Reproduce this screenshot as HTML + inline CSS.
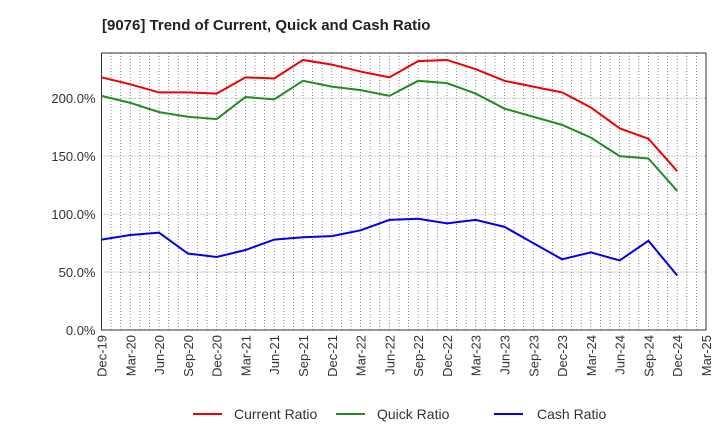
<!DOCTYPE html>
<html><head><meta charset="utf-8"><style>
body{margin:0;background:#fff;font-family:"Liberation Sans",sans-serif;}
</style></head><body>
<svg width="720" height="440" xmlns="http://www.w3.org/2000/svg">
<text x="102" y="30" font-size="15" font-weight="bold" fill="#222">[9076]  Trend of Current, Quick and Cash Ratio</text>
<g id="grid"></g>
<g id="axes"></g>
<g id="series"></g>
<g id="legend" font-size="14" fill="#333">
<line x1="193" y1="414" x2="222" y2="414" stroke="#e00" stroke-width="2"/>
<text x="234" y="419">Current Ratio</text>
<line x1="336" y1="414" x2="365" y2="414" stroke="#228B22" stroke-width="2"/>
<text x="377" y="419">Quick Ratio</text>
<line x1="494" y1="414" x2="523" y2="414" stroke="#00e" stroke-width="2"/>
<text x="537" y="419">Cash Ratio</text>
</g>
</svg>
<script>
const categories=["Dec-19","Mar-20","Jun-20","Sep-20","Dec-20","Mar-21","Jun-21","Sep-21","Dec-21","Mar-22","Jun-22","Sep-22","Dec-22","Mar-23","Jun-23","Sep-23","Dec-23","Mar-24","Jun-24","Sep-24","Dec-24","Mar-25"];
const currentRatio=[218,212,205,205,204,218,217,233,229,223,218,232,233,225,215,210,205,192,174,165,137];
const quickRatio=[202,196,188,184,182,201,199,215,210,207,202,215,213,204,191,184,177,166,150,148,120];
const cashRatio=[78,82,84,66,63,69,78,80,81,86,95,96,92,95,89,75,61,67,60,77,47];
const yTicks=[0,50,100,150,200];
const yTickLabels=["0.0%","50.0%","100.0%","150.0%","200.0%"];
const NS="http://www.w3.org/2000/svg";
const L=101.5,R=706,T=53,B=330,YMAX=239;
const x=i=>L+(R-L)*i/(categories.length-1);
const y=v=>B-(B-T)*v/YMAX;
function mk(tag,attrs,parent){const e=document.createElementNS(NS,tag);for(const k in attrs)e.setAttribute(k,attrs[k]);document.getElementById(parent).appendChild(e);return e;}
for(let m=1;m<(categories.length-1)*3;m++){const gx=L+(R-L)*m/((categories.length-1)*3);
const g=mk("line",{x1:gx,x2:gx,y1:T,y2:B,stroke:"#777","stroke-width":0.8,"stroke-dasharray":"1,2"},"grid");

}
yTicks.forEach((t,i)=>{const gy=y(t);
if(t>0){const g=mk("line",{x1:L,x2:R,y1:gy,y2:gy,stroke:"#777","stroke-width":0.8,"stroke-dasharray":"1,2"},"grid");

}
const tx=mk("text",{x:L-6,y:gy+5,"text-anchor":"end","font-size":"13",fill:"#333"},"axes");tx.textContent=yTickLabels[i];

});
const frame=mk("rect",{x:L,y:T,width:R-L,height:B-T,fill:"none",stroke:"#333","stroke-width":1},"axes");


categories.forEach((c,i)=>{const tx=mk("text",{transform:`translate(${x(i)+5},${B+5}) rotate(-90)`,"text-anchor":"end","font-size":"13",fill:"#333"},"axes");tx.textContent=c;

});
[[currentRatio,"#e00","current-ratio-line"],[quickRatio,"#228B22","quick-ratio-line"],[cashRatio,"#00e","cash-ratio-line"]].forEach(([d,c,n])=>{
const p=mk("polyline",{points:d.map((v,i)=>x(i)+","+y(v)).join(" "),fill:"none",stroke:c,"stroke-width":2},"series");

});
</script>
</body></html>
